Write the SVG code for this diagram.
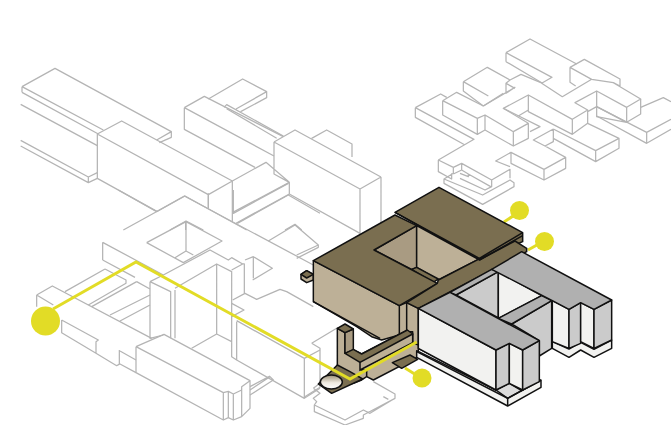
<svg xmlns="http://www.w3.org/2000/svg" width="671" height="425" viewBox="0 0 671 425">
<defs><linearGradient id="ring" x1="0" y1="0" x2="0" y2="1"><stop offset="0" stop-color="#9a8e76"/><stop offset=".55" stop-color="#efeae0"/><stop offset="1" stop-color="#fff"/></linearGradient></defs>
<style>
path,polygon,ellipse{vector-effect:non-scaling-stroke}
.g path{fill:none;stroke:#b4b4b4;stroke-width:1.25;stroke-linejoin:round}
.k polygon,.k ellipse{stroke:#111;stroke-width:1.5;stroke-linejoin:round}
.k path{fill:none;stroke:#111;stroke-width:1.5}
.d{fill:#7a6e50}.t{fill:#bdb097}.m{fill:#a99b82}
.a{fill:#b0b0b0}.w{fill:#f2f2f0}.c{fill:#cbcbcb}.l{fill:#dcdcdc}
.y{fill:none;stroke:#e2dc26;stroke-width:3}
.o{fill:#e2dc26}
</style>
<rect width="671" height="425" fill="#fff"/>
<g id="context" class="g">
<g id="context-nw" transform="translate(0,30) scale(.33333)">
<path d="M66 170L165 115L514 305L470 330M66 170L310 300M66 187L295 312M66 170V187M514 305V322L478 338"/>
<path d="M62 223L292 347M62 331L265 441M62 348L265 458M265 441V458L292 445M265 441L292 428"/>
<path d="M292 312L365 273L697 453L625 494L292 312M292 312V445L472 545M625 494V535M697 453V575"/>
<path d="M553 233L613 199L850 320M553 233V298L765 412M553 233L822 378"/>
<path d="M625 207L728 147L800 185V203L722 245M800 185L708 237M672 232L680 224L850 318M680 236L830 325"/>
<path d="M822 336L885 300L1143 441M822 336V432L868 457V492L708 580M822 336L1080 477M868 457L697 548M697 453L798 397L868 457M868 492L1080 610M935 325L980 300L1056 342V381M1080 477V615M1143 441V615M1080 477L1143 441"/>
<path d="M370 600L555 498L740 600M510 600L558 573L610 600M855 600L885 583L905 600M557 573V600"/>
</g>
<g id="context-sw" transform="translate(20,190) scale(.33333)">
<path d="M295 0L410 65M410 65L493 18L880 225M248 157V210M248 157L430 255M248 210L345 262"/>
<path d="M255 237L135 305M255 237L318 270V280L205 345M350 275L390 297M215 350L350 275M270 375L390 315M300 393L390 345M50 315L97 288L395 445M50 315V350M50 315L100 345"/>
<path d="M125 390L235 450L228 455V490L290 527L298 522V480M125 390V428L228 490M290 527L300 522L348 548M300 483L348 510"/>
<path d="M348 470V548L610 690L625 683L640 690L665 680L690 655V572M348 470L610 608V690M348 470L432 433L690 572L665 590V600L640 612L625 604L610 608M625 604V683M640 612V690M665 600V680"/>
<path d="M690 600L750 560L760 570L690 615M690 590L750 558"/>
<path d="M390 275V445L430 435M390 275L430 255L570 180L625 210L635 203L668 222L635 240M390 275L452 305V445M465 300V445M465 295L590 222L635 245V500L650 510M590 222V432L515 475M590 432L635 455M668 222H673V310"/>
<path d="M380 158L498 95L606 153L490 218L380 158M498 95V183L465 203M498 183L520 195"/>
<path d="M675 210L700 200L757 235L698 270M700 200V265"/>
<path d="M638 330L675 310L710 328L780 298L800 305L880 350M635 340L672 360L635 380"/>
<path d="M650 395V510L853 625L900 595M650 392L853 505V625M853 505L900 480"/>
<path d="M565 10V55M640 0V70L805 -20M652 100L805 15L900 70M745 153L825 105L895 165V172L830 205M895 165L830 195"/>
</g>
<g id="context-s" transform="translate(300,310) scale(.33333)">
<path d="M40 235L60 220M40 235L60 250L40 265L50 275L43 285V305L135 345L190 325V315L285 265V252L220 215M43 285L135 330L190 300L210 310L285 265M265 268L250 260"/>
<path d="M35 100L110 55M35 100L60 115V232L12 262"/>
</g>
<g id="context-ne" transform="translate(400,30) scale(.33333)">
<path d="M318 68L390 27L530 102M318 68L456 142L425 160M318 95L425 158M318 68V95"/>
<path d="M510 112L553 88L660 147V168L640 158L722 207L680 232L590 183L525 218L563 240L517 268L385 195L310 235L420 290L390 305M510 112L575 148L487 200L425 160M510 112V157L527 168M575 148L640 158"/>
<path d="M722 207V252L680 277V232M590 183V260L680 277M680 277L590 230L563 245M563 240V280L517 313V268M385 195V245L517 313M385 240L355 258"/>
<path d="M722 232L790 203L813 215M590 258L740 340L813 298M590 230L740 307V340M740 307L813 268"/>
<path d="M563 280L657 325V355L587 395V362L657 325M587 362L460 297M587 395L460 325M460 297L400 330L435 348L460 335V297M435 348L497 382V415L432 450V418L497 382M432 418L333 367L287 393L330 410M333 367V400L432 450"/>
<path d="M190 155L262 112L330 150L318 160V190L345 172L250 228M190 155L265 198M190 155V183L250 228M330 150L363 133L428 160M318 160L345 175"/>
<path d="M128 212L170 187L250 228M46 233L122 192L140 202M46 233L222 328L115 390M46 233V262L195 345M128 212V255L232 313L255 300V255L232 265L128 212M232 265V313M255 255L340 305L385 280V325L340 348L255 300M340 305V348M250 228L310 190M310 235L385 280"/>
<path d="M115 390V425L155 447V430M115 390L160 412L185 400L275 450L330 418V445M160 412V430L132 447V460L248 523L342 470V458L330 450L248 495L132 447M185 400V420L205 432V440L180 430M185 420L160 432M180 445L255 480L275 470V450M205 432L272 470"/>
</g>
</g>
<g id="leaders">
<path class="y" d="M504 222L519 212M528 250L544 241M405 368L421 378"/>
<circle class="o" cx="519.500" cy="210.500" r="9.500"/>
<circle class="o" cx="544.500" cy="241.500" r="9.500"/>
<circle class="o" cx="422" cy="378" r="9.500"/>
</g>
<g id="tan-building" class="k" transform="translate(290,180) scale(.33333)">
<polygon class="t" points="33,283 50,272 70,283 70,300 50,308 33,297"/>
<polygon class="d" points="33,283 50,272 70,283 50,294"/>
<polygon class="d" points="315,97 447,22 698,158 698,185 568,240"/>
<polygon class="t" points="70,242 70,365 200,440 245,470 275,480 328,465 350,455 368,455 368,490 385,505 385,385 350,368 328,377"/>
<path d="M70,365L270,475M328,377V465M350,368V455"/>
<polygon class="m" points="252,210 380,137 380,262 365,268"/>
<polygon class="t" points="380,137 565,238 445,300 380,262"/>
<polygon class="d" points="365,268 380,262 445,297 430,307"/>
<polygon class="d" points="70,242 315,105 380,137 252,210 442,310 328,377"/>
<polygon class="d" points="350,368 442,310 445,300 565,238 568,240 675,183 710,205 710,215 385,385"/>
<path d="M315,97L568,235L698,158M568,240L698,167"/>
<polygon class="t" points="142,445 165,458 165,520 190,510 215,522 350,452 368,462 368,488 385,495 385,530 250,600 230,590 215,600 190,610 165,615 142,590"/>
<polygon class="m" points="165,458 190,447 190,510 165,520"/>
<polygon class="d" points="142,445 165,432 190,447 165,458"/>
<polygon class="d" points="165,520 190,508 215,522 352,450 368,462 210,547"/>
<path d="M210,547V570L368,488M230,590V570L210,570"/>
<polygon class="d" points="85,612 125,640 218,597 180,575 142,555"/>
<ellipse cx="124" cy="606" rx="33" ry="21" fill="url(#ring)"/>
<polygon class="d" points="307,548 360,525 383,538 335,565"/>
</g>
<path id="route" class="y" d="M53 309L136 262L350 379L416.700 342"/>
<circle id="route-start" class="o" cx="45.500" cy="321" r="14.500"/>
<g id="gray-building" class="k" transform="translate(410,230) scale(.33333)">
<polygon class="w" points="427,335 477,357 512,337 552,358 605,330 605,355 552,382 512,360 477,382 427,355"/>
<polygon class="w" points="20,362 258,480 298,460 335,482 393,450 393,472 293,528 20,382"/>
<polygon class="l" points="258,480 298,460 335,482 293,505"/>
<path d="M20,365L293,505V528M293,505L393,450M25,355L258,480"/>
<polygon class="c" points="305,282 425,212 425,355 388,378 388,332"/>
<polygon class="c" points="138,195 265,125 265,265 305,285"/>
<polygon class="w" points="265,125 395,197 265,265"/>
<polygon class="a" points="265,265 395,197 425,212 305,282"/>
<polygon class="a" points="120,187 245,118 265,125 138,195"/>
<polygon class="w" points="427,212 477,238 477,355 427,335"/>
<polygon class="c" points="477,238 512,218 512,340 477,355"/>
<polygon class="w" points="512,218 552,238 552,355 512,335"/>
<polygon class="c" points="552,238 605,210 605,330 552,355"/>
<polygon class="a" points="245,118 335,65 605,210 552,238 512,218 477,238 427,212"/>
<polygon class="w" points="25,235 258,360 258,480 25,355"/>
<polygon class="c" points="258,360 298,340 298,460 258,480"/>
<polygon class="w" points="298,340 338,360 338,480 298,460"/>
<polygon class="c" points="338,360 388,332 388,455 338,480"/>
<polygon class="a" points="25,235 120,187 388,332 338,360 298,340 258,360"/>
</g>
</svg>
